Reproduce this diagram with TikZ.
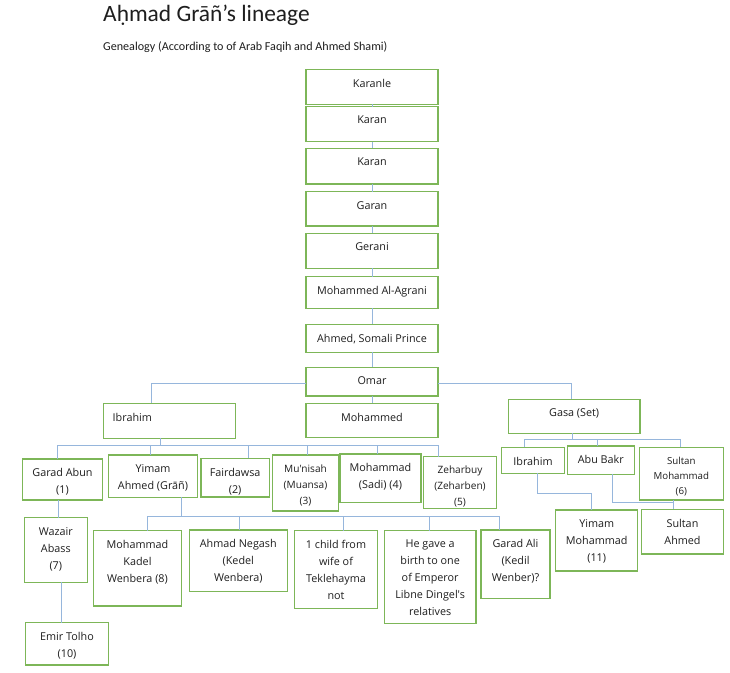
\documentclass[tikz,border=0pt]{standalone}
\usepackage{fontspec}
\setmainfont{Carlito}
\newfontfamily\boxfont{Open Sans}
\definecolor{boxgreen}{RGB}{125,182,88}
\definecolor{linkblue}{RGB}{150,182,220}
\definecolor{txt}{RGB}{30,30,30}
\newcommand\gbox[7][]{%
  \node[box, minimum width={(#5-#3)*1pt}, minimum height={(#6-#4)*1pt}] (#2) at ({(#3+#5)/2},{(#4+#6)/2}) {};
  \node[lbl, anchor=north, #1] (#2t) at ({(#3+#5)/2},{#4+9.3}) {#7};}
\begin{document}
\begin{tikzpicture}[x=1pt,y=-1pt,
  box/.style={draw=boxgreen, line width=1.3pt, fill=white, inner sep=0pt, outer sep=0pt},
  lbl/.style={font=\boxfont\fontsize{10.8}{17}\selectfont, align=center, inner sep=0pt, text=txt},
  small/.style={font=\boxfont\fontsize{10.1}{16}\selectfont},
  smaller/.style={font=\boxfont\fontsize{9.7}{15.2}\selectfont},
  link/.style={draw=linkblue, line width=0.9pt}]
\fill[white] (0,0) rectangle (730,672);
\useasboundingbox (0,0) rectangle (730,672);
% title
\node[anchor=north west, inner sep=0pt, font=\fontsize{23.4}{28}\selectfont, text=txt] (title) at (103,5) {Aḥmad Grāñ’s lineage};
\node[anchor=north west, inner sep=0pt, font=\fontsize{12.1}{14}\selectfont, text=txt] (subtitle) at (103,41) {Genealogy (According to of Arab Faqih and Ahmed Shami)};
% coordinates of buses
\coordinate (busA) at (0,445);
\coordinate (busB) at (0,439.3);
\coordinate (busC) at (0,516);
% boxes
\gbox{kar0}{306}{69.3}{438}{104.3}{Karanle}
\gbox{kar1}{306}{106.7}{438}{141.7}{Karan}
\gbox{kar2}{306}{148.3}{438}{184}{Karan}
\gbox{gar}{306}{191.7}{438}{226}{Garan}
\gbox{ger}{306}{233.3}{438}{268.3}{Gerani}
\gbox{mag}{306}{276.7}{438}{308.3}{Mohammed Al-Agrani}
\gbox{asp}{306}{324.3}{438}{352.3}{Ahmed, Somali Prince}
\gbox{omar}{306}{367.3}{438}{396}{Omar}
\gbox{moh}{306}{403.3}{438}{437.3}{Mohammed}
\node[box, minimum width=132.4pt, minimum height=35pt] (ibr) at (169.5,420.8) {};
\node[lbl, anchor=north west] (ibrt) at (112.5,412.8) {Ibrahim};
\gbox{gasa}{508.3}{399.3}{640}{433.3}{Gasa (Set)}
\gbox{ga}{22.3}{459}{102.7}{500}{Garad Abun\\(1)}
\gbox{yim}{108.7}{455}{197.3}{497.3}{Yimam\\Ahmed (Grāñ)}
\gbox{fai}{201}{458.3}{269.3}{497}{Fairdawsa\\(2)}
\gbox[small]{mun}{272.7}{455}{338.3}{511}{Mu'nisah\\(Muansa)\\(3)}
\gbox{msa}{340}{454}{421}{502.3}{Mohammad\\(Sadi) (4)}
\gbox[small]{zeh}{423.3}{456.7}{496.7}{508.3}{Zeharbuy\\(Zeharben)\\(5)}
\gbox{ib2}{501.7}{447.3}{564.3}{473.3}{Ibrahim}
\gbox{abu}{567.3}{446}{634.3}{474.3}{Abu Bakr}
\gbox[smaller]{smo}{639.3}{447.3}{723.3}{500}{Sultan\\Mohammad\\(6)}
\gbox{wab}{24.3}{517.7}{87.3}{582.3}{Wazair\\Abass\\(7)}
\gbox{emir}{25.7}{622.7}{108.3}{665}{Emir Tolho\\(10)}
\gbox{mkw}{93.3}{530.7}{181.7}{606}{Mohammad\\Kadel\\Wenbera (8)}
\gbox{ang}{189.3}{530}{287.3}{591.7}{Ahmad Negash\\(Kedel\\Wenbera)}
\gbox{ch1}{294.3}{530.7}{377.7}{608.3}{1 child from\\wife of\\Teklehayma\\not}
\gbox{hgb}{384.3}{530.7}{476}{623.3}{He gave a\\birth to one\\of Emperor\\Libne Dingel's\\relatives}
\gbox{gal}{481}{530}{550}{598.3}{Garad Ali\\(Kedil\\Wenber)?}
\gbox{ymo}{555.7}{510}{637.7}{571}{Yimam\\Mohammad\\(11)}
\gbox{sah}{641.7}{509.3}{723.3}{554}{Sultan\\Ahmed}
% ---- links ----
\draw[link] (kar0.south) -- (kar1.north);
\draw[link] (kar1.south) -- (kar2.north);
\draw[link] (kar2.south) -- (gar.north);
\draw[link] (gar.south) -- (ger.north);
\draw[link] (ger.south) -- (mag.north);
\draw[link] (mag.south) -- (asp.north);
\draw[link] (asp.south) -- (omar.north);
\draw[link] (omar.south) -- (moh.north);
\draw[link] ([yshift=-2]omar.west) -| ([xshift=-18.5]ibr.north);
\draw[link] ([yshift=-2]omar.east) -| ([xshift=-3]gasa.north);
% Ibrahim's children
\draw[link] ([xshift=-9.5]ibr.south) -- ([xshift=-9.5]ibr.south |- busA);
\draw[link] ([xshift=-5.5]ga.north |- busA) -- ([xshift=-22]zeh.north |- busA);
\foreach \n/\d in {ga/-5.5, yim/-3, fai/12.8, mun/1.5, msa/-3.5, zeh/-22}
  \draw[link] ([xshift=\d]\n.north) -- ([xshift=\d]\n.north |- busA);
% Gasa's children
\draw[link] ([xshift=-1.5]gasa.south) -- ([xshift=-1.5]gasa.south |- busB);
\draw[link] ([xshift=-8.7]ib2.north |- busB) -- ([xshift=-1.3]smo.north |- busB);
\foreach \n/\d in {ib2/-8.7, abu/-3, smo/-1.3}
  \draw[link] ([xshift=\d]\n.north) -- ([xshift=\d]\n.north |- busB);
% Yimam Ahmed's children
\draw[link] ([xshift=28.7]yim.south) -- ([xshift=28.7]yim.south |- busC);
\draw[link] ([xshift=9.5]mkw.north |- busC) -- ([xshift=-16.2]gal.north |- busC);
\foreach \n/\d in {mkw/9.5, ang/1, ch1/7.3, hgb/-1, gal/-16.2}
  \draw[link] ([xshift=\d]\n.north) -- ([xshift=\d]\n.north |- busC);
% other lines
\draw[link] ([xshift=-4.2]ga.south) -- ([xshift=-4.2]ga.south |- wab.north);
\draw[link] ([xshift=5.9]wab.south) -- ([xshift=5.9]wab.south |- emir.north);
\draw[link] ([xshift=4.7]ib2.south) -- ++(0,20) -| ([xshift=-5]ymo.north);
\draw[link] ([xshift=11.9]abu.south) -- ++(0,28) -| ([xshift=-9.2]sah.north);
\draw[link] ([xshift=-8]smo.south) -- ([xshift=-8]smo.south |- sah.north);
\end{tikzpicture}
\end{document}
